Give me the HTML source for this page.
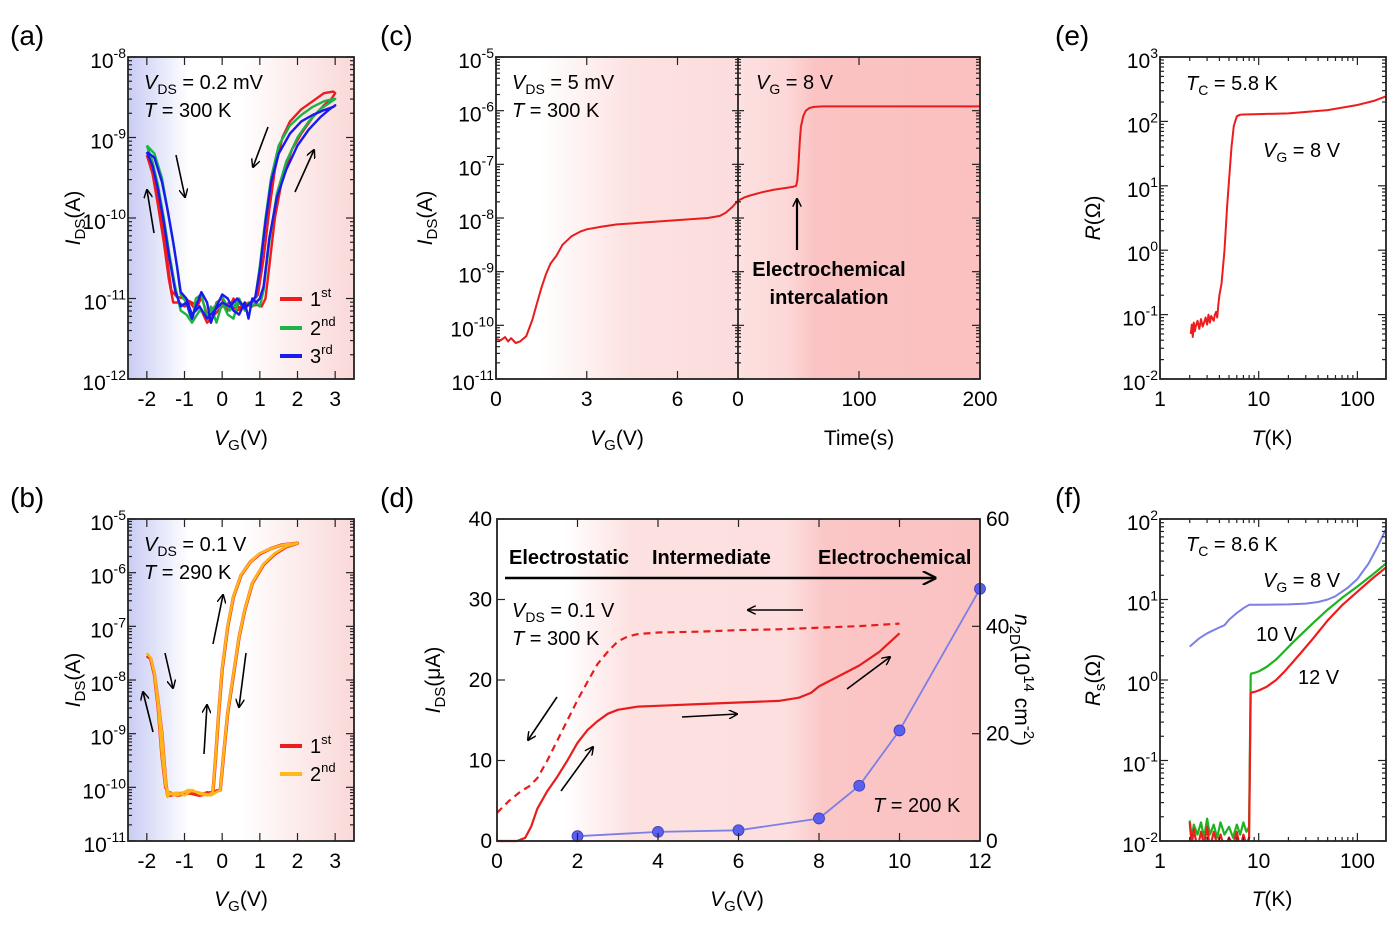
<!DOCTYPE html>
<html><head><meta charset="utf-8"><style>
html,body{margin:0;padding:0;background:#fff;}
svg{display:block;font-family:"Liberation Sans",Arial,sans-serif;}
</style></head><body>
<svg id="fig" width="1400" height="926" viewBox="0 0 1400 926">
<defs>
<linearGradient id="gAB" x1="0" x2="1" y1="0" y2="0">
<stop offset="0" stop-color="#c8ccf4"/><stop offset="0.27" stop-color="#ffffff"/><stop offset="0.5" stop-color="#ffffff"/><stop offset="1" stop-color="#fad8d8"/></linearGradient>
<linearGradient id="gC1" x1="0" x2="1" y1="0" y2="0">
<stop offset="0" stop-color="#ffffff"/><stop offset="0.18" stop-color="#ffffff"/><stop offset="0.55" stop-color="#fde2e2"/><stop offset="1" stop-color="#fcdcdc"/></linearGradient>
<linearGradient id="gC2" x1="0" x2="1" y1="0" y2="0">
<stop offset="0" stop-color="#fde0e0"/><stop offset="0.2" stop-color="#fcd8d8"/><stop offset="0.32" stop-color="#fbc3c3"/><stop offset="1" stop-color="#fbc0c0"/></linearGradient>
<linearGradient id="gD" x1="0" x2="1" y1="0" y2="0">
<stop offset="0" stop-color="#ffffff"/><stop offset="0.14" stop-color="#ffffff"/><stop offset="0.28" stop-color="#fde0e0"/><stop offset="0.6" stop-color="#fddfdf"/><stop offset="0.68" stop-color="#fbc6c6"/><stop offset="1" stop-color="#fbc2c2"/></linearGradient>
<clipPath id="cA"><rect x="128" y="57" width="226" height="322"/></clipPath>
<clipPath id="cB"><rect x="128" y="519" width="226" height="322"/></clipPath>
<clipPath id="cE"><rect x="1160" y="57" width="226" height="322"/></clipPath>
<clipPath id="cF"><rect x="1160" y="519" width="226" height="322"/></clipPath>
<marker id="ah" viewBox="0 0 10 10" refX="9" refY="5" markerWidth="9" markerHeight="9" orient="auto" markerUnits="userSpaceOnUse"><path d="M0,0 L10,5 L0,10" fill="none" stroke="#000" stroke-width="1.6"/></marker>
<marker id="ahB" viewBox="0 0 10 10" refX="9" refY="5" markerWidth="14" markerHeight="14" orient="auto" markerUnits="userSpaceOnUse"><path d="M0,0 L10,5 L0,10" fill="none" stroke="#000" stroke-width="1.6"/></marker>
</defs>

<rect x="128" y="57" width="226" height="322" fill="url(#gAB)"/>
<rect x="128" y="519" width="226" height="322" fill="url(#gAB)"/>
<rect x="496" y="57" width="242" height="322" fill="url(#gC1)"/>
<rect x="738" y="57" width="242" height="322" fill="url(#gC2)"/>
<rect x="497" y="519" width="483" height="322" fill="url(#gD)"/>

<g id="marks"></g>
<g id="axes"></g>

<g font-size="28" fill="#000">
<text x="10" y="45">(a)</text>
<text x="10" y="507">(b)</text>
<text x="380" y="45">(c)</text>
<text x="380" y="507">(d)</text>
<text x="1055" y="45">(e)</text>
<text x="1055" y="507">(f)</text>
</g>

<g font-size="21" fill="#000">
<text transform="translate(80,218) rotate(-90)" text-anchor="middle"><tspan font-style="italic">I</tspan><tspan font-size="15" dy="5">DS</tspan><tspan dy="-5">(A)</tspan></text>
<text x="241" y="445" text-anchor="middle"><tspan font-style="italic">V</tspan><tspan font-size="15" dy="5">G</tspan><tspan dy="-5">(V)</tspan></text>
<text transform="translate(80,680) rotate(-90)" text-anchor="middle"><tspan font-style="italic">I</tspan><tspan font-size="15" dy="5">DS</tspan><tspan dy="-5">(A)</tspan></text>
<text x="241" y="906" text-anchor="middle"><tspan font-style="italic">V</tspan><tspan font-size="15" dy="5">G</tspan><tspan dy="-5">(V)</tspan></text>
<text transform="translate(432,218) rotate(-90)" text-anchor="middle"><tspan font-style="italic">I</tspan><tspan font-size="15" dy="5">DS</tspan><tspan dy="-5">(A)</tspan></text>
<text x="617" y="445" text-anchor="middle"><tspan font-style="italic">V</tspan><tspan font-size="15" dy="5">G</tspan><tspan dy="-5">(V)</tspan></text>
<text x="859" y="445" text-anchor="middle">Time(s)</text>
<text transform="translate(440,680) rotate(-90)" text-anchor="middle"><tspan font-style="italic">I</tspan><tspan font-size="15" dy="5">DS</tspan><tspan dy="-5">(μA)</tspan></text>
<text x="737" y="906" text-anchor="middle"><tspan font-style="italic">V</tspan><tspan font-size="15" dy="5">G</tspan><tspan dy="-5">(V)</tspan></text>
<text transform="translate(1015,680) rotate(90)" text-anchor="middle"><tspan font-style="italic">n</tspan><tspan font-size="15" dy="5">2D</tspan><tspan dy="-5">(10</tspan><tspan font-size="15" dy="-9">14</tspan><tspan dy="9"> cm</tspan><tspan font-size="15" dy="-9">-2</tspan><tspan dy="9">)</tspan></text>
<text transform="translate(1100,218) rotate(-90)" text-anchor="middle"><tspan font-style="italic">R</tspan>(Ω)</text>
<text x="1272" y="445" text-anchor="middle"><tspan font-style="italic">T</tspan>(K)</text>
<text transform="translate(1100,680) rotate(-90)" text-anchor="middle"><tspan font-style="italic">R</tspan><tspan font-size="15" dy="5">s</tspan><tspan dy="-5">(Ω)</tspan></text>
<text x="1272" y="906" text-anchor="middle"><tspan font-style="italic">T</tspan>(K)</text>
</g>

<g font-size="20" fill="#000">
<text x="144" y="89"><tspan font-style="italic">V</tspan><tspan font-size="14" dy="5">DS</tspan><tspan dy="-5"> = 0.2 mV</tspan></text>
<text x="144" y="117"><tspan font-style="italic">T</tspan> = 300 K</text>
<text x="144" y="551"><tspan font-style="italic">V</tspan><tspan font-size="14" dy="5">DS</tspan><tspan dy="-5"> = 0.1 V</tspan></text>
<text x="144" y="579"><tspan font-style="italic">T</tspan> = 290 K</text>
<text x="512" y="89"><tspan font-style="italic">V</tspan><tspan font-size="14" dy="5">DS</tspan><tspan dy="-5"> = 5 mV</tspan></text>
<text x="512" y="117"><tspan font-style="italic">T</tspan> = 300 K</text>
<text x="756" y="89"><tspan font-style="italic">V</tspan><tspan font-size="14" dy="5">G</tspan><tspan dy="-5"> = 8 V</tspan></text>
<text x="829" y="276" text-anchor="middle" font-weight="bold" font-size="20">Electrochemical</text>
<text x="829" y="304" text-anchor="middle" font-weight="bold" font-size="20">intercalation</text>
<text x="509" y="564" font-weight="bold" font-size="20">Electrostatic</text>
<text x="652" y="564" font-weight="bold" font-size="20">Intermediate</text>
<text x="818" y="564" font-weight="bold" font-size="20">Electrochemical</text>
<text x="512" y="617"><tspan font-style="italic">V</tspan><tspan font-size="14" dy="5">DS</tspan><tspan dy="-5"> = 0.1 V</tspan></text>
<text x="512" y="645"><tspan font-style="italic">T</tspan> = 300 K</text>
<text x="873" y="812"><tspan font-style="italic">T</tspan> = 200 K</text>
<text x="1186" y="90"><tspan font-style="italic">T</tspan><tspan font-size="14" dy="5">C</tspan><tspan dy="-5"> = 5.8 K</tspan></text>
<text x="1263" y="157"><tspan font-style="italic">V</tspan><tspan font-size="14" dy="5">G</tspan><tspan dy="-5"> = 8 V</tspan></text>
<text x="1186" y="551"><tspan font-style="italic">T</tspan><tspan font-size="14" dy="5">C</tspan><tspan dy="-5"> = 8.6 K</tspan></text>
<text x="1263" y="587"><tspan font-style="italic">V</tspan><tspan font-size="14" dy="5">G</tspan><tspan dy="-5"> = 8 V</tspan></text>
<text x="1256" y="641">10 V</text>
<text x="1298" y="684">12 V</text>
</g>

<g font-size="20">
<line x1="280" y1="299" x2="302" y2="299" stroke="#ee1c1c" stroke-width="4"/>
<text x="310" y="306">1<tspan font-size="13" dy="-9">st</tspan></text>
<line x1="280" y1="328" x2="302" y2="328" stroke="#1db34a" stroke-width="4"/>
<text x="310" y="335">2<tspan font-size="13" dy="-9">nd</tspan></text>
<line x1="280" y1="356" x2="302" y2="356" stroke="#1a1aef" stroke-width="4"/>
<text x="310" y="363">3<tspan font-size="13" dy="-9">rd</tspan></text>
<line x1="280" y1="746" x2="302" y2="746" stroke="#ee1c1c" stroke-width="4"/>
<text x="310" y="753">1<tspan font-size="13" dy="-9">st</tspan></text>
<line x1="280" y1="774" x2="302" y2="774" stroke="#ffba1a" stroke-width="4"/>
<text x="310" y="781">2<tspan font-size="13" dy="-9">nd</tspan></text>
</g>

<g stroke="#000" stroke-width="1.6" fill="none">
<line x1="154" y1="233" x2="147" y2="190" marker-end="url(#ah)"/>
<line x1="176" y1="155" x2="185" y2="197" marker-end="url(#ah)"/>
<line x1="268" y1="127" x2="253" y2="167" marker-end="url(#ah)"/>
<line x1="295" y1="192" x2="314" y2="150" marker-end="url(#ah)"/>
<line x1="153" y1="732" x2="143" y2="692" marker-end="url(#ah)"/>
<line x1="165" y1="653" x2="173" y2="688" marker-end="url(#ah)"/>
<line x1="204" y1="754" x2="207" y2="705" marker-end="url(#ah)"/>
<line x1="213" y1="644" x2="223" y2="595" marker-end="url(#ah)"/>
<line x1="246" y1="653" x2="239" y2="707" marker-end="url(#ah)"/>
<line x1="797" y1="250" x2="797" y2="199" stroke-width="2.2" marker-end="url(#ah)"/>
<line x1="505" y1="578" x2="935" y2="578" stroke-width="2.5" marker-end="url(#ahB)"/>
<line x1="803" y1="610" x2="748" y2="610" marker-end="url(#ah)"/>
<line x1="557" y1="697" x2="528" y2="740" marker-end="url(#ah)"/>
<line x1="561" y1="791" x2="593" y2="747" marker-end="url(#ah)"/>
<line x1="682" y1="717" x2="737" y2="714" marker-end="url(#ah)"/>
<line x1="847" y1="689" x2="890" y2="657" marker-end="url(#ah)"/>
</g>
</svg>
<script>
const aV1 = [-2,-1.85,-1.7,-1.55,-1.42,-1.3,-1.15,-1.0,-0.85,-0.7,-0.55,-0.4,-0.3,-0.15,0,0.15,0.3,0.45,0.6,0.75,0.9,1.05,1.15,1.25,1.4,1.6,1.85,2.1,2.4,2.7,2.9,3.0,2.95,2.7,2.4,2.1,1.8,1.6,1.4,1.25,1.1,0.95,0.8,0.6,0.4,0.2,0,-0.2,-0.4,-0.6,-0.8,-1.0,-1.2,-1.35,-1.45,-1.6,-1.75,-1.9,-2];
const aI1 = [-9.22,-9.45,-9.85,-10.3,-10.75,-11.05,-11.05,-11.1,-11.05,-11.15,-10.98,-11.2,-11.3,-11.05,-11.0,-11.15,-11.0,-11.12,-11.05,-11.1,-11.08,-11.1,-11.0,-10.6,-10.0,-9.5,-9.15,-8.95,-8.75,-8.6,-8.52,-8.45,-8.43,-8.45,-8.55,-8.65,-8.8,-9.0,-9.4,-9.9,-10.5,-10.95,-11.05,-11.1,-11.15,-11.05,-11.1,-11.2,-11.3,-11.1,-11.05,-11.0,-10.98,-10.9,-10.55,-10.0,-9.6,-9.3,-9.22];
const aV2 = [-2,-1.85,-1.7,-1.55,-1.4,-1.25,-1.1,-0.95,-0.8,-0.7,-0.55,-0.4,-0.3,-0.15,0,0.15,0.3,0.45,0.6,0.7,0.8,0.9,1.0,1.1,1.25,1.45,1.7,2.0,2.3,2.6,2.85,3.0,2.95,2.7,2.4,2.1,1.8,1.5,1.3,1.15,1.0,0.88,0.75,0.6,0.4,0.2,0,-0.2,-0.4,-0.6,-0.8,-0.95,-1.1,-1.2,-1.3,-1.45,-1.6,-1.8,-2];
const aI2 = [-9.1,-9.3,-9.6,-10.0,-10.45,-10.85,-11.15,-11.2,-11.3,-11.0,-10.95,-11.25,-11.1,-11.3,-11.05,-11.2,-11.25,-11.0,-11.15,-11.05,-11.1,-11.05,-11.1,-10.9,-10.3,-9.7,-9.3,-9.0,-8.8,-8.65,-8.57,-8.52,-8.52,-8.55,-8.62,-8.72,-8.85,-9.1,-9.5,-10.0,-10.6,-11.0,-11.05,-11.1,-11.05,-11.15,-10.98,-11.1,-11.2,-11.15,-11.3,-11.05,-10.95,-10.6,-10.3,-9.9,-9.5,-9.2,-9.1];
const aV3 = [-2,-1.85,-1.7,-1.55,-1.4,-1.25,-1.1,-0.95,-0.8,-0.7,-0.55,-0.4,-0.3,-0.15,0,0.15,0.3,0.45,0.6,0.7,0.8,0.9,1.0,1.1,1.25,1.45,1.7,2.0,2.3,2.6,2.85,3.0,2.95,2.7,2.4,2.1,1.8,1.5,1.3,1.15,1.0,0.88,0.75,0.6,0.4,0.2,0,-0.2,-0.4,-0.6,-0.8,-0.95,-1.1,-1.2,-1.3,-1.45,-1.6,-1.8,-2];
const aI3 = [-9.18,-9.35,-9.65,-10.05,-10.5,-10.9,-11.1,-11.05,-11.25,-11.1,-10.92,-11.05,-11.3,-11.1,-10.95,-11.0,-11.15,-11.2,-11.05,-11.25,-11.0,-11.05,-11.0,-10.85,-10.25,-9.75,-9.4,-9.1,-8.9,-8.75,-8.65,-8.6,-8.62,-8.66,-8.72,-8.8,-8.95,-9.2,-9.55,-10.05,-10.65,-10.98,-11.05,-11.12,-11.0,-11.1,-11.05,-11.15,-11.25,-11.1,-11.2,-11.0,-10.92,-10.6,-10.3,-9.9,-9.55,-9.25,-9.18];
const bV = [-2,-1.9,-1.8,-1.7,-1.6,-1.5,-1.45,-1.4,-1.2,-1.0,-0.8,-0.6,-0.4,-0.25,-0.18,-0.1,0,0.15,0.3,0.5,0.75,1.0,1.3,1.6,2.0,1.7,1.4,1.1,0.8,0.6,0.45,0.3,0.15,0.05,-0.05,-0.3,-0.6,-0.9,-1.2,-1.4,-1.5,-1.6,-1.7,-1.8,-1.9,-2];
const bI1 = [-7.55,-7.6,-7.9,-8.4,-9.0,-9.9,-10.15,-10.1,-10.15,-10.12,-10.1,-10.15,-10.1,-10.12,-9.5,-8.7,-7.8,-7.0,-6.45,-6.05,-5.8,-5.65,-5.55,-5.48,-5.45,-5.52,-5.65,-5.85,-6.2,-6.7,-7.2,-7.9,-8.6,-9.3,-10.05,-10.1,-10.15,-10.1,-10.12,-10.15,-10.0,-9.4,-8.5,-7.9,-7.6,-7.55];
const bI2 = [-7.5,-7.58,-7.88,-8.38,-9.0,-9.88,-10.18,-10.12,-10.1,-10.15,-10.05,-10.12,-10.15,-10.1,-9.48,-8.68,-7.78,-6.98,-6.44,-6.04,-5.8,-5.64,-5.55,-5.48,-5.45,-5.51,-5.64,-5.84,-6.19,-6.69,-7.19,-7.88,-8.58,-9.28,-10.05,-10.15,-10.1,-10.05,-10.15,-10.12,-9.98,-9.38,-8.48,-7.88,-7.58,-7.5];
const cV = [0,0.15,0.3,0.4,0.5,0.65,0.8,1.0,1.1,1.2,1.35,1.5,1.65,1.8,2.0,2.2,2.5,2.8,3.0,3.5,4,5,6,7,7.4,7.6,7.8,8];
const cI = [-10.25,-10.28,-10.22,-10.3,-10.24,-10.33,-10.3,-10.2,-10.05,-9.9,-9.6,-9.3,-9.05,-8.85,-8.7,-8.5,-8.34,-8.25,-8.21,-8.16,-8.12,-8.08,-8.04,-8.0,-7.96,-7.9,-7.8,-7.68];
const cT = [0,5,10,20,30,40,45,48,49,50,51,52,54,56,59,63,70,100,150,200];
const cIt = [-7.68,-7.62,-7.58,-7.52,-7.47,-7.44,-7.42,-7.4,-7.3,-7.0,-6.6,-6.3,-6.1,-6.0,-5.95,-5.93,-5.92,-5.92,-5.92,-5.92];
const dVs = [0,0.5,0.7,0.85,1.0,1.25,1.5,1.75,2.0,2.25,2.5,2.75,3.0,3.5,4,5,6,7,7.5,7.8,8,8.5,9,9.5,10];
const dIs = [0,0,0.4,1.8,4,6.2,8,10,12.2,13.8,14.9,15.8,16.3,16.7,16.8,17.0,17.2,17.4,17.8,18.4,19.2,20.5,21.8,23.5,25.8];
const dVd = [0,0.3,0.6,0.8,1.0,1.25,1.5,1.75,2.0,2.25,2.5,2.75,3.0,3.25,3.5,4,5,6,7,8,9,10];
const dId = [3.5,5,6.2,6.8,7.8,10,12.5,15,17.5,19.8,22,23.5,24.8,25.4,25.7,25.9,26.0,26.2,26.3,26.5,26.7,27.0];
const dVn = [2,4,6,8,9,10,12];
const dN = [0.9,1.7,2.0,4.2,10.3,20.6,47];
const eT = [2.05,2.1,2.15,2.2,2.25,2.3,2.4,2.5,2.6,2.7,2.8,2.9,3.0,3.1,3.2,3.3,3.5,3.6,3.7,3.8,3.9,4.0,4.2,4.5,4.8,5.0,5.3,5.6,6.0,6.5,7,10,20,50,100,150,195];
const eR = [0.05,0.07,0.045,0.075,0.055,0.065,0.08,0.06,0.085,0.065,0.075,0.09,0.07,0.1,0.075,0.095,0.08,0.1,0.11,0.09,0.14,0.2,0.3,1,5,12,40,85,120,127,128,130,133,150,180,210,245];
const fT8 = [2,2.5,3,4,4.5,5,6,7,8,10,20,30,40,50,60,80,100,130,160,195];
const fR8 = [2.6,3.3,3.8,4.5,4.8,5.6,6.8,7.8,8.6,8.6,8.7,8.9,9.3,10,11,14,18,28,45,75];
const fT10 = [2,2.1,2.2,2.4,2.6,2.8,3.0,3.2,3.5,3.8,4.1,4.5,5,5.5,6,6.5,7,7.5,8.0,8.2,8.3,8.4,9,10,12,15,18,22,27,35,50,70,100,140,195];
const fR10 = [0.018,0.011,0.016,0.012,0.017,0.011,0.019,0.012,0.016,0.011,0.017,0.012,0.015,0.011,0.016,0.012,0.017,0.013,0.015,0.3,1.15,1.2,1.22,1.28,1.45,1.8,2.25,2.9,3.7,5.0,7.5,10.5,14.5,20,28];
const fT12 = [2,2.1,2.2,2.4,2.6,2.8,3.0,3.2,3.5,3.8,4.1,4.5,5,5.5,6,6.5,7,7.5,8.0,8.2,8.3,8.4,9,10,12,15,18,22,27,35,50,70,100,140,195];
const fR12 = [0.017,0.009,0.014,0.008,0.013,0.009,0.015,0.008,0.013,0.009,0.012,0.008,0.011,0.009,0.013,0.008,0.012,0.009,0.011,0.2,0.68,0.7,0.71,0.74,0.82,1.0,1.25,1.65,2.2,3.2,5.5,8.5,12.5,18,25];
const abXTicks = [-2,-1,0,1,2,3];
const aYExp = [-12,-11,-10,-9,-8];
const bYExp = [-11,-10,-9,-8,-7,-6,-5];
const cYExp = [-11,-10,-9,-8,-7,-6,-5];
const cXTicksV = [0,3,6];
const cXTicksT = [0,100,200];
const dXTicks = [0,2,4,6,8,10,12];
const dYTicks = [0,10,20,30,40];
const dY2Ticks = [0,20,40,60];
const efXTicks = [1,10,100];
const eYExp = [-2,-1,0,1,2,3];
const fYExp = [-2,-1,0,1,2];

const NS = 'http://www.w3.org/2000/svg';
const marks = document.getElementById('marks');
const axes = document.getElementById('axes');
function lin(d0,d1,r0,r1){ return v => r0 + (v-d0)/(d1-d0)*(r1-r0); }
function el(tag, parent){ const e=document.createElementNS(NS,tag); parent.appendChild(e); return e; }
function line(parent,x1,y1,x2,y2,name){
  const l=el('line',parent);
  l.setAttribute('x1',x1);l.setAttribute('y1',y1);l.setAttribute('x2',x2);l.setAttribute('y2',y2);
  l.setAttribute('stroke','#222');l.setAttribute('stroke-width','1.2');
  
  
  return l;
}
function path(xs,ys,sx,sy,color,w,name,clip,dash){
  const p=el('path',marks);
  let d='';
  for(let i=0;i<xs.length;i++){ d+=(i?'L':'M')+sx(xs[i]).toFixed(1)+','+sy(ys[i]).toFixed(1); }
  p.setAttribute('d',d);p.setAttribute('fill','none');p.setAttribute('stroke',color);
  p.setAttribute('stroke-width',w);p.setAttribute('stroke-linejoin','round');
  if(clip) p.setAttribute('clip-path','url(#'+clip+')');
  if(dash) p.setAttribute('stroke-dasharray',dash);
  
  
  return p;
}
function txt(parent,x,y,s,anchor,name,size){
  const t=el('text',parent);
  t.setAttribute('x',x);t.setAttribute('y',y);t.setAttribute('font-size',size||21);
  t.setAttribute('text-anchor',anchor||'middle');t.textContent=s;
  
  
  return t;
}
function powLabel(parent,x,y,exp,name){
  const t=el('text',parent);
  t.setAttribute('x',x);t.setAttribute('y',y);t.setAttribute('font-size',21);t.setAttribute('text-anchor','end');
  t.textContent='10';
  const s=el('tspan',t);s.setAttribute('font-size',14);s.setAttribute('dy',-10);s.textContent=String(exp);
  
  
}
function box(x0,y0,x1,y1,name){
  const r=el('rect',axes);
  r.setAttribute('x',x0);r.setAttribute('y',y0);r.setAttribute('width',x1-x0);r.setAttribute('height',y1-y0);
  r.setAttribute('fill','none');r.setAttribute('stroke','#222');r.setAttribute('stroke-width','1.8');
  
  
}
function logYTicks(exps,sy,xl,xr,pfx,labels){
  for(let i=0;i<exps.length;i++){
    const e=exps[i], y=sy(e);
    line(axes,xl,y,xl+8,y,pfx+'-y-major-tick');
    line(axes,xr,y,xr-8,y,pfx+'-y-major-tick-right');
    if(labels) powLabel(axes,xl-2,y+11,e,pfx+'-y-tick-label');
    if(i<exps.length-1){
      for(let m=2;m<=9;m++){ const ym=sy(e+Math.log10(m));
        line(axes,xl,ym,xl+4,ym,pfx+'-y-minor-tick');
        line(axes,xr,ym,xr-4,ym,pfx+'-y-minor-tick-right'); }
    }
  }
}
function linXTicks(vals,sx,yb,yt,pfx,labels){
  for(const v of vals){ const x=sx(v);
    line(axes,x,yb,x,yb-8,pfx+'-x-tick'); line(axes,x,yt,x,yt+8,pfx+'-x-tick-top');
    if(labels) txt(axes,x,yb+27,String(v),'middle',pfx+'-x-tick-label'); }
}

{
  const sx=lin(-2.5,3.5,128,354), sy=lin(-12,-8,379,57);
  path(aV1,aI1,sx,sy,'#ee1c1c',2.4,'series-a-1st','cA');
  path(aV2,aI2,sx,sy,'#1db34a',2.4,'series-a-2nd','cA');
  path(aV3,aI3,sx,sy,'#1a1aef',2.4,'series-a-3rd','cA');
  box(128,57,354,379,'panel-a-frame');
  logYTicks(aYExp,sy,128,354,'panel-a',true);
  linXTicks(abXTicks,sx,379,57,'panel-a',true);
}
{
  const sx=lin(-2.5,3.5,128,354), sy=lin(-11,-5,841,519);
  path(bV,bI1,sx,sy,'#ee2a1a',3.4,'series-b-1st','cB');
  path(bV,bI2,sx,sy,'#ffb51a',2.6,'series-b-2nd','cB');
  box(128,519,354,841,'panel-b-frame');
  logYTicks(bYExp,sy,128,354,'panel-b',true);
  linXTicks(abXTicks,sx,841,519,'panel-b',true);
}
{
  const sxV=lin(0,8,496,738), sxT=lin(0,200,738,980), sy=lin(-11,-5,379,57);
  path(cV,cI,sxV,sy,'#e81c1c',2,'series-c-ids-vs-vg');
  path(cT,cIt,sxT,sy,'#e81c1c',2,'series-c-ids-vs-time');
  box(496,57,980,379,'panel-c-frame');
  line(axes,738,57,738,379,'panel-c-divider').setAttribute('stroke-width','1.8');
  logYTicks(cYExp,sy,496,980,'panel-c',true);
  for(let i=0;i<cYExp.length;i++){ const y=sy(cYExp[i]); line(axes,732,y,744,y,'panel-c-divider-tick');
    if(i<cYExp.length-1) for(let m=2;m<=9;m++){ const ym=sy(cYExp[i]+Math.log10(m)); line(axes,735,ym,741,ym,'panel-c-divider-minor-tick'); } }
  for(const v of cXTicksV){ const x=sxV(v); line(axes,x,379,x,371,'panel-c-x-tick'); line(axes,x,57,x,65,'panel-c-x-tick-top'); txt(axes,x,406,String(v),'middle','panel-c-x-tick-label'); }
  for(const v of cXTicksT){ const x=sxT(v); if(v>0){line(axes,x,379,x,371,'panel-c-time-tick'); line(axes,x,57,x,65,'panel-c-time-tick-top');} txt(axes,x,406,String(v),'middle','panel-c-time-tick-label'); }
}
{
  const sx=lin(0,12,497,980), sy=lin(0,40,841,519), sy2=lin(0,60,841,519);
  path(dVd,dId,sx,sy,'#e81c1c',2.2,'series-d-backward-dashed',null,'7,5');
  path(dVs,dIs,sx,sy,'#e81c1c',2.2,'series-d-forward');
  path(dVn,dN,sx,sy2,'#7b7fe6',1.8,'series-d-n2d-line');
  for(let i=0;i<dVn.length;i++){ const c=el('circle',marks);
    c.setAttribute('cx',sx(dVn[i]));c.setAttribute('cy',sy2(dN[i]));c.setAttribute('r',5.5);
    c.setAttribute('fill','#5a5ff0');c.setAttribute('stroke','#3a3fb0');c.setAttribute('stroke-width','0.8');
    
     }
  box(497,519,980,841,'panel-d-frame');
  for(const v of dXTicks){ const x=sx(v); line(axes,x,841,x,833,'panel-d-x-tick'); line(axes,x,519,x,527,'panel-d-x-tick-top'); txt(axes,x,868,String(v),'middle','panel-d-x-tick-label'); }
  for(const v of dYTicks){ const y=sy(v); line(axes,497,y,505,y,'panel-d-y-tick'); txt(axes,492,y+7,String(v),'end','panel-d-y-tick-label'); }
  for(const v of dY2Ticks){ const y=sy2(v); line(axes,980,y,972,y,'panel-d-y2-tick'); txt(axes,986,y+7,String(v),'start','panel-d-y2-tick-label'); }
}
{
  const sx=v=>lin(0,2.29,1160,1386)(Math.log10(v)), sy=v=>lin(-2,3,379,57)(Math.log10(v));
  path(eT,eR,sx,sy,'#ee1c1c',2,'series-e-resistance','cE');
  box(1160,57,1386,379,'panel-e-frame');
  const syE=lin(-2,3,379,57);
  logYTicks(eYExp,syE,1160,1386,'panel-e',true);
  for(let d=0;d<3;d++) for(let m=1;m<=9;m++){ const v=m*Math.pow(10,d); if(v>195) break; const x=sx(v); const L=(m===1)?8:4;
    line(axes,x,379,x,379-L,'panel-e-x-tick'); line(axes,x,57,x,57+L,'panel-e-x-tick-top'); }
  for(const v of efXTicks) txt(axes,sx(v),406,String(v),'middle','panel-e-x-tick-label');
}
{
  const sx=v=>lin(0,2.29,1160,1386)(Math.log10(v)), sy=v=>lin(-2,2,841,519)(Math.log10(v));
  path(fT8,fR8,sx,sy,'#7b7fe6',2,'series-f-8v','cF');
  path(fT10,fR10,sx,sy,'#1db31d',2.2,'series-f-10v','cF');
  path(fT12,fR12,sx,sy,'#ee1c1c',2.2,'series-f-12v','cF');
  box(1160,519,1386,841,'panel-f-frame');
  const syF=lin(-2,2,841,519);
  logYTicks(fYExp,syF,1160,1386,'panel-f',true);
  for(let d=0;d<3;d++) for(let m=1;m<=9;m++){ const v=m*Math.pow(10,d); if(v>195) break; const x=sx(v); const L=(m===1)?8:4;
    line(axes,x,841,x,841-L,'panel-f-x-tick'); line(axes,x,519,x,519+L,'panel-f-x-tick-top'); }
  for(const v of efXTicks) txt(axes,sx(v),868,String(v),'middle','panel-f-x-tick-label');
}
</script>
</body></html>
